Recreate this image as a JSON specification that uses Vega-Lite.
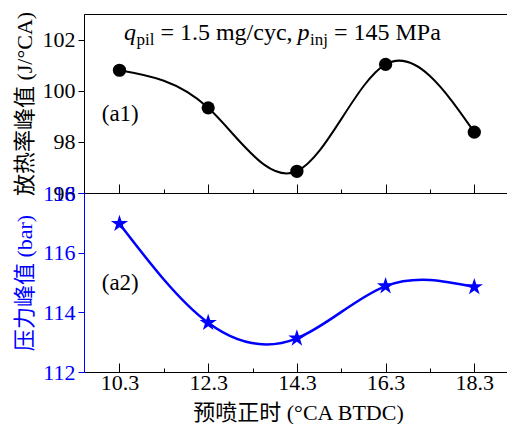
{
  "$schema": "https://vega.github.io/schema/vega-lite/v6.json",
  "padding": {"left": 12, "top": 10, "right": 0, "bottom": 0},
  "background": "white",
  "spacing": 0,
  "bounds": "flush",
  "config": {
    "view": {"stroke": "#000", "strokeWidth": 1},
    "font": "'Liberation Serif', 'Times New Roman', serif",
    "text": {"font": "'Liberation Serif', 'Times New Roman', serif"},
    "axis": {
      "grid": false,
      "labelFont": "'Liberation Serif', 'Times New Roman', serif",
      "titleFont": "'Liberation Serif', 'Noto Sans CJK SC', serif",
      "labelFontSize": 22,
      "titleFontSize": 22,
      "titleFontWeight": "normal",
      "domainColor": "#000",
      "tickColor": "#000",
      "labelColor": "#000",
      "titleColor": "#000",
      "labelFlush": false,
      "labelOverlap": false
    }
  },
  "datasets": {
    "main": [
      {"timing": 10.3, "hrr": 100.8, "pressure": 116.97},
      {"timing": 12.3, "hrr": 99.33, "pressure": 113.65},
      {"timing": 14.3, "hrr": 96.85, "pressure": 113.13},
      {"timing": 16.3, "hrr": 101.03, "pressure": 114.88},
      {"timing": 18.3, "hrr": 98.38, "pressure": 114.85}
    ]
  },
  "vconcat": [
    {
      "width": 428,
      "height": 179,
      "data": {"name": "main"},
      "layer": [
        {
          "mark": {"type": "line", "interpolate": "natural", "color": "#000", "strokeWidth": 2},
          "encoding": {
            "x": {"field": "timing", "type": "quantitative", "scale": {"domain": [9.5, 19.15], "nice": false, "zero": false},
              "axis": {"orient": "bottom", "values": [10.3, 11.3, 12.3, 13.3, 14.3, 15.3, 16.3, 17.3, 18.3],
                "tickSize": -9,
                "tickDash": {"condition": {"test": "abs((datum.value - 10.3) % 2 - 1) < 0.01", "value": [4, 20]}, "value": [20, 0]},
                "labels": false, "title": null}},
            "y": {"field": "hrr", "type": "quantitative", "scale": {"domain": [96, 103], "nice": false, "zero": false},
              "axis": {"orient": "left", "values": [96, 97, 98, 99, 100, 101, 102],
                "tickSize": 6,
                "tickDash": {"condition": {"test": "datum.value % 2 == 1", "value": [3, 20]}, "value": [20, 0]},
                "labelExpr": "datum.value % 2 == 0 ? datum.label : ''",
                "labelPadding": 3, "title": "放热率峰值 (J/°CA)", "titlePadding": 6}}
          }
        },
        {
          "mark": {"type": "point", "shape": "circle", "filled": true, "color": "#000", "opacity": 1, "size": 175},
          "encoding": {
            "x": {"field": "timing", "type": "quantitative"},
            "y": {"field": "hrr", "type": "quantitative"}
          }
        },
        {
          "data": {"values": [{"label": "(a1)", "x": 9.9, "y": 99.1}]},
          "mark": {"type": "text", "align": "left", "baseline": "middle", "fontSize": 23, "color": "#000"},
          "encoding": {"text": {"field": "label"}, "x": {"field": "x", "type": "quantitative"}, "y": {"field": "y", "type": "quantitative"}}
        },
        {
          "data": {"values": [{"label": "q", "x": 10.4, "y": 102}]},
          "mark": {"type": "text", "align": "left", "baseline": "alphabetic", "fontSize": 24, "fontStyle": "italic", "color": "#000"},
          "encoding": {"text": {"field": "label"}, "x": {"field": "x", "type": "quantitative"}, "y": {"field": "y", "type": "quantitative"}}
        },
        {
          "data": {"values": [{"label": "pil", "x": 10.4, "y": 102}]},
          "mark": {"type": "text", "align": "left", "baseline": "alphabetic", "fontSize": 17, "color": "#000", "dx": 12.5, "dy": 5},
          "encoding": {"text": {"field": "label"}, "x": {"field": "x", "type": "quantitative"}, "y": {"field": "y", "type": "quantitative"}}
        },
        {
          "data": {"values": [{"label": "= 1.5 mg/cyc,", "x": 10.4, "y": 102}]},
          "mark": {"type": "text", "align": "left", "baseline": "alphabetic", "fontSize": 24, "color": "#000", "dx": 36.5},
          "encoding": {"text": {"field": "label"}, "x": {"field": "x", "type": "quantitative"}, "y": {"field": "y", "type": "quantitative"}}
        },
        {
          "data": {"values": [{"label": "p", "x": 10.4, "y": 102}]},
          "mark": {"type": "text", "align": "left", "baseline": "alphabetic", "fontSize": 24, "fontStyle": "italic", "color": "#000", "dx": 173.5},
          "encoding": {"text": {"field": "label"}, "x": {"field": "x", "type": "quantitative"}, "y": {"field": "y", "type": "quantitative"}}
        },
        {
          "data": {"values": [{"label": "inj", "x": 10.4, "y": 102}]},
          "mark": {"type": "text", "align": "left", "baseline": "alphabetic", "fontSize": 17, "color": "#000", "dx": 186, "dy": 5},
          "encoding": {"text": {"field": "label"}, "x": {"field": "x", "type": "quantitative"}, "y": {"field": "y", "type": "quantitative"}}
        },
        {
          "data": {"values": [{"label": "= 145 MPa", "x": 10.4, "y": 102}]},
          "mark": {"type": "text", "align": "left", "baseline": "alphabetic", "fontSize": 24, "color": "#000", "dx": 210},
          "encoding": {"text": {"field": "label"}, "x": {"field": "x", "type": "quantitative"}, "y": {"field": "y", "type": "quantitative"}}
        }
      ]
    },
    {
      "width": 428,
      "height": 179,
      "data": {"name": "main"},
      "layer": [
        {
          "mark": {"type": "line", "interpolate": "natural", "color": "#0000FF", "strokeWidth": 2.5},
          "encoding": {
            "x": {"field": "timing", "type": "quantitative", "scale": {"domain": [9.5, 19.15], "nice": false, "zero": false},
              "axis": {"orient": "bottom", "values": [10.3, 11.3, 12.3, 13.3, 14.3, 15.3, 16.3, 17.3, 18.3],
                "tickSize": -9,
                "tickDash": {"condition": {"test": "abs((datum.value - 10.3) % 2 - 1) < 0.01", "value": [4, 20]}, "value": [20, 0]},
                "labelExpr": "abs((datum.value - 10.3) % 2 - 1) < 0.01 ? '' : format(datum.value, '.1f')",
                "labelPadding": 9, "title": "预喷正时 (°CA BTDC)", "titlePadding": 9}},
            "y": {"field": "pressure", "type": "quantitative", "scale": {"domain": [112, 118], "nice": false, "zero": false},
              "axis": {"orient": "left", "values": [112, 113, 114, 115, 116, 117, 118],
                "tickSize": 6,
                "tickDash": {"condition": {"test": "datum.value % 2 == 1", "value": [3, 20]}, "value": [20, 0]},
                "labelExpr": "datum.value % 2 == 0 ? datum.label : ''",
                "labelPadding": 3, "title": "压力峰值 (bar)", "titlePadding": 6,
                "domainColor": "#0000FF", "tickColor": "#0000FF", "labelColor": "#0000FF", "titleColor": "#0000FF"}}
          }
        },
        {
          "mark": {"type": "point", "shape": "M0,-1L0.225,-0.309L0.951,-0.309L0.363,0.118L0.588,0.809L0,0.382L-0.588,0.809L-0.363,0.118L-0.951,-0.309L-0.225,-0.309Z", "filled": true, "color": "#0000FF", "opacity": 1, "size": 330},
          "encoding": {
            "x": {"field": "timing", "type": "quantitative"},
            "y": {"field": "pressure", "type": "quantitative"}
          }
        },
        {
          "data": {"values": [{"label": "(a2)", "x": 9.9, "y": 115.0}]},
          "mark": {"type": "text", "align": "left", "baseline": "middle", "fontSize": 23, "color": "#000"},
          "encoding": {"text": {"field": "label"}, "x": {"field": "x", "type": "quantitative"}, "y": {"field": "y", "type": "quantitative"}}
        }
      ]
    }
  ]
}
